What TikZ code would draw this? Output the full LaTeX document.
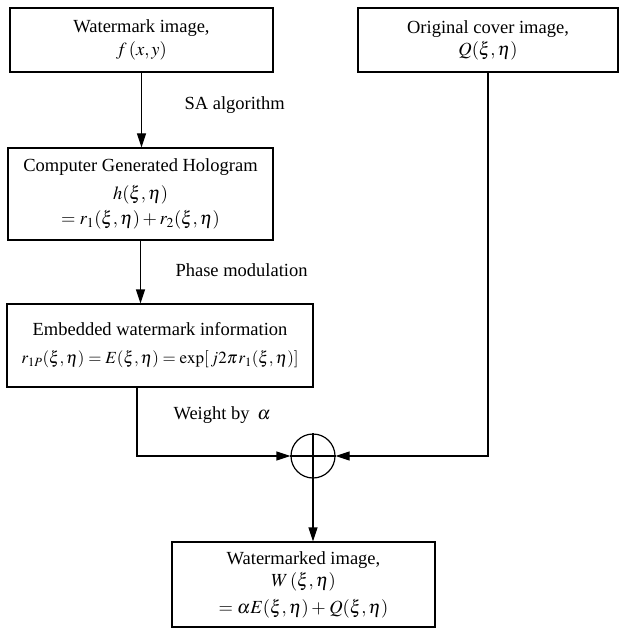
\documentclass[tikz,border=0pt]{standalone}
\usepackage{mathptmx}
\usepackage{fontspec}
\setmainfont{Liberation Serif}
\usetikzlibrary{arrows.meta,calc}
\tikzset{
  blk/.style={draw, line width=1.2pt, align=center, inner sep=2pt, font=\fontsize{18.5}{22}\selectfont},
  lbl/.style={anchor=west, font=\fontsize{18.5}{22}\selectfont},
  flow/.style={line width=1.2pt, -{Triangle[length=14pt,width=9pt]}},
}
\begin{document}
\begin{tikzpicture}[x=1pt, y=-1pt]
  \useasboundingbox (0,0) rectangle (619,628);
  % boxes
  \node[blk, minimum width=263pt, minimum height=64pt] (wm) at (141.5,40) {Watermark image,\\[1pt] $f\,(x,y)$};
  \node[blk, minimum width=260pt, minimum height=64pt] (cov) at (488,40) {Original cover image,\\ $Q(\xi,\eta)$};
  \node[blk, minimum width=265pt, minimum height=92pt] (cgh) at (140.5,194) {Computer Generated Hologram\\[6pt] $h(\xi,\eta)$\\[3pt] $=r_1(\xi,\eta)+r_2(\xi,\eta)$};
  \node[blk, minimum width=306pt, minimum height=83pt] (emb) at (160,345.5) {Embedded watermark information\\[6pt] {\fontsize{17}{20}\selectfont $r_{1P}(\xi,\eta)=E(\xi,\eta)=\exp[\,j2\pi\mkern1mu r_1(\xi,\eta)]$}};
  \node[draw, circle, line width=1.2pt, minimum size=44pt, inner sep=0pt] (sum) at (313,456) {};
  \node[blk, minimum width=263pt, minimum height=85pt] (out) at (303.5,584.5) {Watermarked image,\\ $W\,(\xi,\eta)$\\[5pt] $=\alpha E(\xi,\eta)+\mkern1mu Q(\xi,\eta)$};
  \draw[line width=1.2pt] (sum.north) -- (sum.south) (sum.west) -- (sum.east);
  % connectors
  \coordinate (wl) at (137,456);
  \draw[flow] (wm.south) -- (wm.south |- cgh.north);
  \draw[flow] (cgh.south) -- (cgh.south |- emb.north);
  \draw[flow] (emb.south -| wl) |- (sum.west);
  \draw[flow] (cov.south) |- (sum.east);
  \draw[flow] (sum.south) -- (sum.south |- out.north);
  % labels
  \node[lbl] (sa) at (181,105) {SA algorithm};
  \node[lbl] (pm) at (172,270) {Phase modulation};
  \node[lbl] (wt) at (170,415) {Weight by \,$\alpha$};
\end{tikzpicture}
\end{document}
